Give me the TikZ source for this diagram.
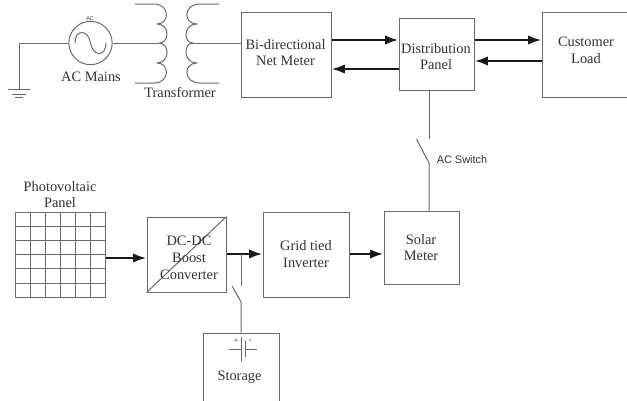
\documentclass[tikz,border=0pt]{standalone}
\usepackage{fontspec}
\setmainfont{Liberation Serif}
\newfontfamily\arialf{Liberation Sans}
\usetikzlibrary{arrows.meta}
\definecolor{ln}{RGB}{105,105,105}
\definecolor{tx}{RGB}{50,50,50}
\tikzset{
  x=0.75pt,y=-0.75pt,
  wire/.style={draw=ln,line width=0.75pt,line join=round},
  power/.style={draw=black!90,line width=1.8pt,-{Latex[length=10pt,width=7pt]}},
  blockbox/.style={draw=ln,line width=0.75pt,rectangle,inner sep=0pt},
  lbl/.style={font=\fontsize{10.8}{12.6}\selectfont,text=tx,align=center,inner sep=0pt},
}
\newcommand{\blk}[5]{\node[blockbox,minimum width=(#4-#2)*0.75pt,minimum height=(#5-#3)*0.75pt] (#1) at ({(#2+#4)/2},{(#3+#5)/2}) {};}
\begin{document}
\begin{tikzpicture}
\useasboundingbox (0,0) rectangle (627,400);
\clip (0,0) rectangle (627,400);
% blocks
\blk{net}{241}{12}{331}{97}
\blk{dist}{399}{18.5}{474}{90}
\blk{cust}{542}{12}{640}{97}
\blk{solar}{384}{211}{459}{284}
\blk{inv}{263}{212}{349}{297}
\blk{conv}{147}{217}{226}{292}
\blk{stor}{203}{333}{279}{420}
\blk{pv}{15}{212}{105}{297}
% PV grid
\foreach \i in {1,...,5} {
  \draw[wire] ({15+\i*15},212) -- ({15+\i*15},297);
  \draw[wire] (15,{212+\i*14.2}) -- (105,{212+\i*14.2});
}
% converter diagonal
\draw[wire] (conv.south west) -- (conv.north east);
% labels
\node[lbl] (netT) at (285.5,52.5) {Bi-directional\\Net Meter};
\node[lbl] (distT) at (436,56.5) {Distribution\\Panel};
\node[lbl] (custT) at (586,50) {Customer\\Load};
\node[lbl] (solarT) at (421,247.5) {Solar\\Meter};
\node[lbl] (invT) at (306,254) {Grid tied\\Inverter};
\node[lbl] (convT) at (189,258) {DC-DC\\Boost\\Converter};
\node[lbl] (storT) at (239.5,377) {Storage};
\node[lbl] (pvT) at (60,194.5) {Photovoltaic\\Panel};
\node[lbl] (mainsT) at (91,76.5) {AC Mains};
\node[lbl] (trT) at (180,92) {Transformer};
% AC source
\node[draw=ln,line width=0.75pt,circle,minimum size=32.5pt,inner sep=0pt] (src) at (90.5,43) {};
\draw[wire] (75,43) .. controls (75,29) and (88,29) .. (90.5,43) .. controls (93,57) and (106,57) .. (106,43);
\node[font=\fontsize{4}{5}\selectfont,text=tx,inner sep=0pt] (srcT) at (90,18.5) {\arialf AC};
% ground
\coordinate (gndtop) at (19,89.5);
\coordinate (prim) at (159,43);
\coordinate (sec) at (193,43);
\draw[wire] (src.west) -- (19,43) -- (gndtop);
\draw[wire] (8,89.5) -- (30,89.5) (12,94) -- (26,94) (15,97.5) -- (23,97.5);
% transformer
\draw[wire] (src.east) -- (prim);
\draw[wire] (135,4) -- (154,4)
  .. controls (170,4) and (170,24) .. (157,24)
  .. controls (170,24) and (170,43) .. (159,43)
  .. controls (170,43) and (170,63) .. (157,63)
  .. controls (170,63) and (170,83) .. (154,83) -- (135,83);
\draw[wire] (219,4) -- (200,4)
  .. controls (183,4) and (183,24) .. (197,24)
  .. controls (183,24) and (183,43) .. (193,43)
  .. controls (183,43) and (183,63) .. (197,63)
  .. controls (183,63) and (183,83) .. (200,83) -- (219,83);
\draw[wire] (sec) -- (net.west |- sec);
% power arrows
\coordinate (yA) at (0,40);
\coordinate (yB) at (0,69);
\coordinate (yC) at (0,61);
\coordinate (yD) at (0,254);
\coordinate (yE) at (0,258);
\draw[power] (net.east |- yA) -- (dist.west |- yA);
\draw[power] (dist.west |- yB) -- (net.east |- yB);
\draw[power] (dist.east |- yA) -- (cust.west |- yA);
\draw[power] (cust.west |- yC) -- (dist.east |- yC);
\draw[power] (pv.east |- yE) -- (conv.west |- yE);
\draw[power] (conv.east |- yD) -- (inv.west |- yD);
\draw[power] (inv.east |- yD) -- (solar.west |- yD);
% AC switch
\coordinate (swA) at (429,139);
\coordinate (swB) at (429,163);
\coordinate (swC) at (416.5,139);
\draw[wire] (dist.south -| swA) -- (swA);
\draw[wire] (swC) -- (swB) -- (solar.north -| swB);
\node[font=\fontsize{8.2}{10}\selectfont,text=tx,inner sep=0pt,anchor=west] (swT) at (436.5,160) {\arialf AC Switch};
% storage switch
\coordinate (stA) at (241,254);
\coordinate (stB) at (241,286);
\coordinate (stC) at (232,286);
\coordinate (stD) at (241,302);
\draw[wire] (stA) -- (stB);
\draw[wire] (stC) -- (stD) -- (stor.north -| stD);
% battery
\draw[wire] (229,349) -- (241,349) (241,337) -- (241,362);
\draw[wire] (245,341) -- (245,357) (245,349) -- (257,349);
\node[font=\fontsize{6.5}{7}\selectfont,text=tx,inner sep=0pt] (plusT) at (236,341) {+};
\node[font=\fontsize{6.5}{7}\selectfont,text=tx,inner sep=0pt] (minusT) at (250,341) {-};
\end{tikzpicture}
\end{document}
